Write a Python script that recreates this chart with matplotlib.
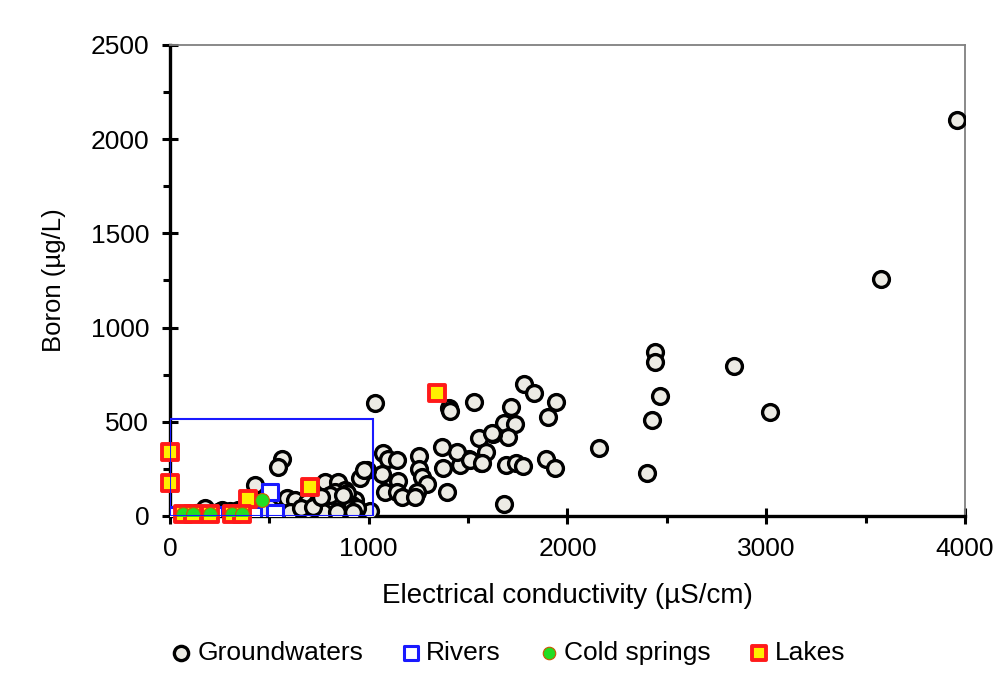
import matplotlib.pyplot as plt
from matplotlib.patches import Rectangle
from matplotlib.ticker import MultipleLocator

plt.rcParams['font.family'] = ['Liberation Sans', 'DejaVu Sans']

# groundwater samples: EC (uS/cm), boron (ug/L)
gw_ec = [3960, 3580, 2840, 3020, 2440, 2440, 2465, 2425, 2400, 2160,
         1940, 1900, 1890, 1935, 1780, 1830, 1715, 1680, 1735, 1700,
         1625, 1555, 1590, 1565, 1505, 1460, 1445, 1370, 1375, 1395,
         1405, 1410, 1530, 1690, 1740, 1775, 1680, 1030, 1070, 1095,
         1140, 1065, 1145, 1080, 1140, 1165, 1255, 1255, 1270, 1295,
         1245, 1235, 1510, 1570, 1620,
         991, 956, 1006, 975, 780, 845, 880, 830, 795, 895,
         930, 589, 629, 689, 740, 815, 865, 916, 891, 805,
         941, 538, 604, 689, 770, 840, 921, 563, 543, 428,
         176, 262, 240, 300, 340, 380, 450, 500, 660, 720,
         760, 870, 470, 130]
gw_b = [2100, 1260, 795, 550, 868, 815, 635, 510, 230, 360,
        605, 525, 300, 255, 700, 655, 580, 495, 490, 420,
        435, 415, 340, 280, 300, 270, 340, 365, 255, 125,
        575, 555, 605, 270, 280, 265, 65, 600, 335, 305,
        295, 225, 185, 125, 125, 100, 320, 250, 205, 170,
        125, 100, 295, 280, 440,
        244, 202, 25, 245, 180, 180, 140, 125, 85, 85,
        85, 96, 85, 74, 69, 64, 69, 58, 122, 111,
        42, 21, 21, 21, 21, 21, 21, 300, 262, 165,
        42, 32, 20, 25, 30, 20, 45, 50, 40, 45,
        100, 110, 20, 15]

riv_ec = [505, 528, 30, 90, 150, 220, 300, 420]
riv_b = [125, 18, 5, 5, 5, 5, 5, 5]

cs_ec = [65, 116, 201, 312, 362, 463]
cs_b = [8, 8, 12, 8, 12, 85]

lake_ec = [0, 0, 392, 704, 1343, 65, 116, 201, 312, 362]
lake_b = [340, 175, 88, 154, 653, 8, 8, 12, 8, 12]

fig = plt.figure(figsize=(10.03, 6.91), dpi=100)
ax = fig.add_axes([0.1695, 0.2533, 0.7925, 0.6817])

ax.scatter(gw_ec, gw_b, s=130, facecolor='#ecebe4', edgecolor='black',
           linewidth=2.4, label='Groundwaters', zorder=3)
ax.scatter(riv_ec, riv_b, s=120, marker='s', facecolor='white', edgecolor='#1a1aff',
           linewidth=2.2, label='Rivers', zorder=4)
ax.scatter(lake_ec, lake_b, s=130, marker='s', facecolor='#ffee00', edgecolor='#ff1a1a',
           linewidth=2.8, label='Lakes', zorder=5, clip_on=False)
ax.scatter(cs_ec, cs_b, s=100, facecolor='#22dd22', edgecolor='#cc5500',
           linewidth=0.8, label='Cold springs', zorder=6)

# box around the low-EC cluster
ax.add_patch(Rectangle((0, 0), 1020, 515, fill=False, edgecolor='#1a1aff',
                       linewidth=1.5, zorder=7))

ax.set_xlim(0, 4000)
ax.set_ylim(0, 2500)
ax.xaxis.set_major_locator(MultipleLocator(1000))
ax.xaxis.set_minor_locator(MultipleLocator(500))
ax.yaxis.set_major_locator(MultipleLocator(500))
ax.yaxis.set_minor_locator(MultipleLocator(250))
ax.tick_params(which='major', direction='inout', length=12, width=2.2, labelsize=19)
ax.tick_params(axis='y', which='major', pad=9)
ax.tick_params(axis='x', which='major', pad=9)
ax.tick_params(which='minor', direction='out', length=5, width=2.2)

for side in ['left', 'bottom']:
    ax.spines[side].set_linewidth(2.4)
for side in ['top', 'right']:
    ax.spines[side].set_linewidth(1.3)
    ax.spines[side].set_color('#808080')

ax.set_xlabel('Electrical conductivity (µS/cm)', fontsize=20, labelpad=16)
ax.set_ylabel('Boron (µg/L)', fontsize=18.5, labelpad=18)

h, l = ax.get_legend_handles_labels()
order = [0, 1, 3, 2]
fig.legend([h[i] for i in order], [l[i] for i in order], loc='center',
           bbox_to_anchor=(0.505, 0.055), ncol=4, frameon=False, fontsize=19,
           handletextpad=0.1, columnspacing=1.3, handlelength=1.0, markerscale=0.9)

fig.savefig('out.png', dpi=100)
